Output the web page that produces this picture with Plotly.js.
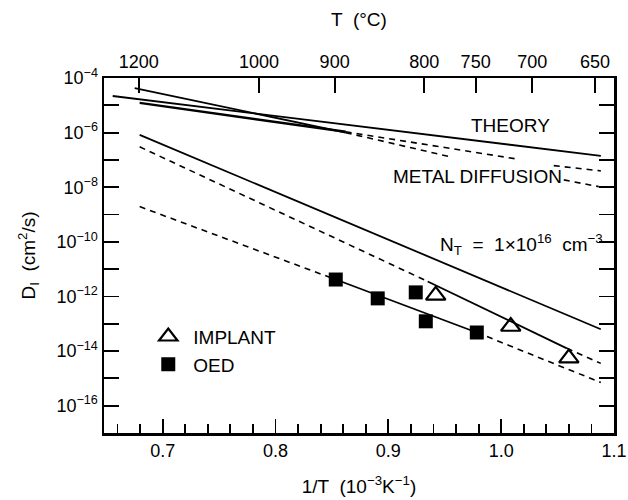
<!DOCTYPE html>
<html>
<head>
<meta charset="utf-8">
<script src="https://cdn.plot.ly/plotly-3.0.1.min.js"></script>
<style>
html,body{margin:0;padding:0;background:#fff;}
#chart{width:628px;height:500px;}
</style>
</head>
<body>
<div id="chart"></div>
<script>
// ---- data (x: 1/T in 1e-3 K^-1, y: D_I in cm^2/s) ----
const theoryX = [0.6557, 1.0883];
const theoryD = [2.19e-5, 1.41e-7];

const metalA_solidX = [0.6752, 0.8622];
const metalA_solidD = [4.27e-5, 1.0e-6];
const metalA_dashX = [0.8622, 0.9553];
const metalA_dashD = [1.0e-6, 1.29e-7];

const metalB_solidX = [0.6796, 0.8622];
const metalB_solidD = [1.23e-5, 1.07e-6];
const metalB_dashX = [0.8622, 1.0129];
const metalB_dashD = [1.07e-6, 1.10e-7];

const metalC_dashX = [1.0466, 1.0883];
const metalC_dashD = [6.17e-8, 3.98e-8];
const metalD_dashX = [1.0555, 1.0865];
const metalD_dashD = [1.86e-8, 1.05e-8];

const ntX = [0.6796, 1.0883];
const ntD = [8.32e-7, 6.31e-14];

const implantFitDash1X = [0.6796, 0.9349];
const implantFitDash1D = [3.02e-7, 3.55e-12];
const implantFitSolidX = [0.9349, 1.0582];
const implantFitSolidD = [3.55e-12, 1.26e-14];
const implantFitDash2X = [1.0582, 1.0883];
const implantFitDash2D = [1.26e-14, 3.55e-15];

const oedFitDash1X = [0.6796, 0.8534];
const oedFitDash1D = [1.95e-9, 4.17e-12];
const oedFitSolidX = [0.8534, 0.9784];
const oedFitSolidD = [4.17e-12, 4.79e-14];
const oedFitDash2X = [0.9784, 1.0883];
const oedFitDash2D = [4.79e-14, 7.08e-16];

const implantX = [0.942, 1.0085, 1.060];
const implantD = [1.10e-12, 7.94e-14, 5.50e-15];

const oedX = [0.8534, 0.8906, 0.9243, 0.9332, 0.9784];
const oedD = [4.17e-12, 8.51e-13, 1.41e-12, 1.23e-13, 4.79e-14];

const topTempC = [1200, 1000, 900, 800, 750, 700, 650];
const yDecades = [-17,-16,-15,-14,-13,-12,-11,-10,-9,-8,-7,-6,-5,-4];

// ---- build ----
const FONT = "Liberation Sans, Arial, Helvetica, sans-serif";
const solid = {color:'#000', width:1.8};
const dashed = {color:'#000', width:1.6, dash:'6px,5px'};
function line(x, y, style){
  return {x:x, y:y, type:'scatter', mode:'lines', line:style, showlegend:false, hoverinfo:'skip'};
}
const traces = [
  line(theoryX, theoryD, solid),
  line(metalA_solidX, metalA_solidD, solid),
  line(metalA_dashX, metalA_dashD, dashed),
  line(metalB_solidX, metalB_solidD, {color:'#000', width:2.4}),
  line(metalB_dashX, metalB_dashD, dashed),
  line(metalC_dashX, metalC_dashD, dashed),
  line(metalD_dashX, metalD_dashD, dashed),
  line(ntX, ntD, solid),
  line(implantFitDash1X, implantFitDash1D, dashed),
  line(implantFitSolidX, implantFitSolidD, solid),
  line(implantFitDash2X, implantFitDash2D, dashed),
  line(oedFitDash1X, oedFitDash1D, dashed),
  line(oedFitSolidX, oedFitSolidD, solid),
  line(oedFitDash2X, oedFitDash2D, dashed),
  {x:implantX, y:implantD, type:'scatter', mode:'markers', name:'IMPLANT',
   marker:{symbol:'triangle-up-open', size:17, color:'#000', line:{width:2.2, color:'#000'}}},
  {x:oedX, y:oedD, type:'scatter', mode:'markers', name:'OED',
   marker:{symbol:'square', size:14, color:'#000'}},
  // invisible trace to activate the top axis
  {x:[0.7], y:[1e-10], xaxis:'x2', yaxis:'y', mode:'markers', marker:{opacity:0}, showlegend:false, hoverinfo:'skip'}
];

const xRange = [0.648, 1.1];
const topVals = topTempC.map(t => 1000/(t+273.15));
const yVals = yDecades.map(e => Math.pow(10, e));
const yText = yDecades.map(e => (e % 2 === 0 && e > -17) ? '10<sup>\u2212' + (-e) + '</sup>' : '');

const layout = {
  width:628, height:500,
  margin:{l:104, r:14, t:78, b:67},
  paper_bgcolor:'#fff', plot_bgcolor:'#fff',
  font:{family:FONT, size:18, color:'#000'},
  showlegend:true,
  legend:{x:0.077, y:0.325, xanchor:'left', yanchor:'top', bgcolor:'rgba(0,0,0,0)',
          font:{size:19, family:FONT}, itemwidth:40, tracegroupgap:0},
  xaxis:{
    range:xRange, type:'linear', showgrid:false, zeroline:false,
    showline:true, linecolor:'#000', linewidth:2.5, mirror:false,
    ticks:'inside', ticklen:14, tickwidth:1.8, tickcolor:'#000',
    tickvals:[0.7,0.8,0.9,1.0,1.1], ticktext:['0.7','0.8','0.9','1.0','1.1'],
    minor:{tickvals:[0.66,0.68,0.72,0.74,0.76,0.78,0.82,0.84,0.86,0.88,0.92,0.94,0.96,0.98,1.02,1.04,1.06,1.08], ticks:'inside', ticklen:9, tickwidth:1.8, tickcolor:'#000'},
    tickfont:{size:18},
    title:{text:'1/T  (10<sup>\u22123</sup>K<sup>\u22121</sup>)', font:{size:19}, standoff:20}
  },
  xaxis2:{
    range:xRange, overlaying:'x', side:'top', anchor:'y', showgrid:false, zeroline:false,
    showline:true, linecolor:'#000', linewidth:2.5,
    ticks:'inside', ticklen:15, tickwidth:1.8, tickcolor:'#000',
    tickvals:topVals, ticktext:topTempC.map(String), tickfont:{size:18},
    title:{text:'T  (\u00B0C)', font:{size:19}, standoff:21}
  },
  yaxis:{
    type:'log', range:[-17,-4], showgrid:false, zeroline:false,
    showline:true, linecolor:'#000', linewidth:2.5, mirror:'ticks',
    ticks:'inside', ticklen:15, tickwidth:1.8, tickcolor:'#000',
    tickvals:yVals, ticktext:yText, tickfont:{size:18},
    title:{text:'D<sub>I</sub>  (cm<sup>2</sup>/s)', font:{size:19}, standoff:16}
  },
  annotations:[
    {x:1.0085, y:-5.75, xref:'x', yref:'y', text:'THEORY', showarrow:false, font:{size:19}},
    {x:1.0555, y:-7.62, xref:'x', yref:'y', text:'METAL DIFFUSION', showarrow:false, xanchor:'right', font:{size:19}},
    {x:1.092, y:-10.1, xref:'x', yref:'y', text:'N<sub>T</sub>  =  1\u00D710<sup>16</sup>  cm<sup>\u22123</sup>', showarrow:false, xanchor:'right', font:{size:19}}
  ]
};

Plotly.newPlot('chart', traces, layout, {staticPlot:true, displayModeBar:false});
</script>
</body>
</html>
